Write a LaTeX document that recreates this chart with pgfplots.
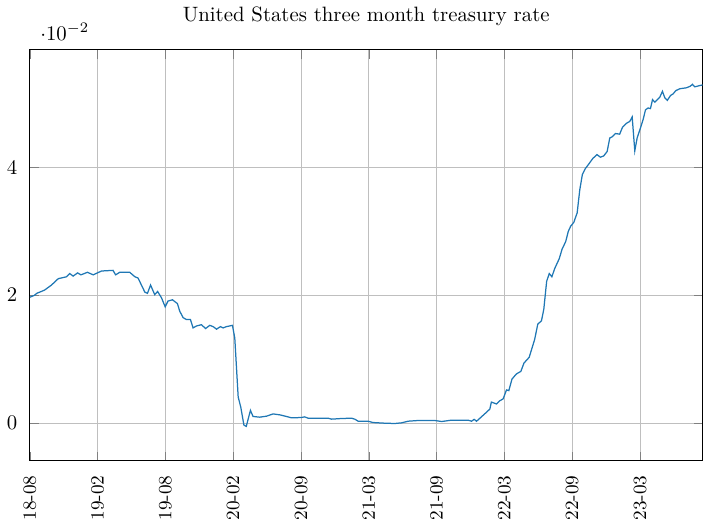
\documentclass[border=0pt]{standalone}
\usepackage{pgfplots}
\pgfplotsset{compat=1.18}
\definecolor{steelblue31119180}{RGB}{31,119,180}
\begin{document}
\begin{tikzpicture}
\begin{axis}[
  scale only axis,
  width=324pt, height=198pt,
  xmin=0, xmax=258,
  ymin=-0.0059, ymax=0.0584,
  xtick={0,26,52,78,104,130,156,182,208,234},
  xticklabels={18-08,19-02,19-08,20-02,20-09,21-03,21-09,22-03,22-09,23-03},
  xticklabel style={rotate=90, anchor=east, font=\small, xshift=-3.5pt},
  yticklabel style={xshift=-2.5pt},
  ytick={0,0.02,0.04},
  grid=major,
  major grid style={line width=0.4pt, draw=black!25},
  every y tick scale label/.style={at={(yticklabel* cs:1.0,0cm)}, anchor=south west, xshift=4pt, yshift=1pt},
  title={United States three month treasury rate},
  title style={yshift=2pt},
]
\addplot[semithick, steelblue31119180] coordinates {
(0,0.0197) (1.8,0.0200) (2.6,0.0203) (5.6,0.0208) (8.3,0.0216) (10.9,0.0226)
(14.1,0.0229) (15.3,0.0234) (16.6,0.0230) (18.3,0.0235) (19.6,0.0232) (22.1,0.0236)
(24.3,0.0232) (27.5,0.0238) (31.9,0.0239) (32.9,0.0232) (34.5,0.0236) (38.3,0.0236)
(40.3,0.0229) (41.5,0.0227) (44.1,0.0205) (45.1,0.0203) (46.3,0.0216) (47.9,0.0201)
(49.0,0.0206) (50.5,0.0196) (51.9,0.0182) (53.0,0.0191) (54.7,0.0193) (56.6,0.0187)
(57.5,0.0175) (58.8,0.0165) (60.1,0.0162) (61.6,0.0162) (62.6,0.0149) (63.9,0.0152)
(65.8,0.0154) (67.4,0.0148) (69.0,0.0153) (70.3,0.0151) (71.6,0.0147) (73.1,0.0151)
(74.1,0.0149) (75.4,0.0151) (77.7,0.0153) (78.6,0.0133) (79.9,0.0041) (80.9,0.0025)
(82.1,-0.0003) (83.0,-0.0005) (84.6,0.0020) (85.6,0.00105) (88.2,0.00094) (90.8,0.0011)
(93.3,0.00145) (95.9,0.0013) (98.4,0.00105) (100.4,0.00083) (104.2,0.00089) (105.4,0.00099)
(106.7,0.00078) (110.5,0.00078) (114.4,0.00078) (115.7,0.00063) (119.5,0.00073) (123.4,0.00078)
(124.6,0.00063) (125.9,0.00031) (129.7,0.00031) (131.6,0.0001) (136.1,0.0) (140.0,-0.00005)
(142.5,0.00005) (145.1,0.00031) (148.9,0.00042) (155.3,0.00042) (157.9,0.00026) (161.7,0.00047)
(168.1,0.00047) (169.4,0.00031) (170.4,0.0006) (171.3,0.0003) (173.2,0.0010) (175.1,0.0017)
(176.4,0.0022) (177.0,0.0033) (179.0,0.0030) (180.2,0.0035) (181.5,0.0038) (182.8,0.0052)
(183.7,0.0051) (184.9,0.0069) (186.6,0.0077) (188.3,0.0081) (189.5,0.0094) (191.5,0.0103)
(193.6,0.0131) (194.8,0.0155) (196.2,0.0160) (197.1,0.0178) (198.2,0.0222) (199.2,0.0234)
(200.2,0.0229) (201.3,0.0242) (203.0,0.0257) (204.1,0.0272) (205.5,0.0284) (206.5,0.0300)
(207.4,0.0308) (208.6,0.0314) (209.9,0.0329) (210.9,0.0365) (211.9,0.0389) (213.0,0.0398)
(214.3,0.0405) (215.9,0.0414) (217.5,0.0420) (218.8,0.0416) (220.1,0.0418) (221.4,0.0425)
(222.4,0.0446) (223.4,0.0448) (224.6,0.0453) (226.2,0.0452) (227.3,0.0463) (228.8,0.0469)
(230.1,0.0472) (231.0,0.0479) (232.0,0.0426) (232.9,0.0446) (234.2,0.0462) (235.2,0.0475)
(236.1,0.0490) (237.1,0.0493) (238.0,0.0492) (238.8,0.0506) (239.7,0.0502) (240.9,0.0507)
(241.6,0.0510) (242.6,0.0519) (243.5,0.0509) (244.5,0.0505) (245.7,0.05125) (246.7,0.0515)
(247.7,0.0520) (249.2,0.0523) (251.8,0.05245) (253.3,0.0527) (254.1,0.0530) (255.0,0.0526)
(256.9,0.0528) (258.0,0.0529)
};
\end{axis}
\end{tikzpicture}
\end{document}
